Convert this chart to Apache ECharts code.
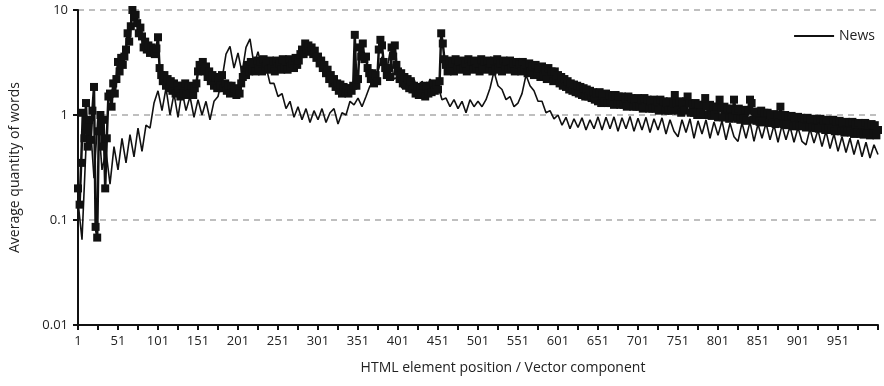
<!DOCTYPE html>
<html>
<head>
<meta charset="utf-8">
<script src="https://cdn.jsdelivr.net/npm/echarts@6/dist/echarts.min.js"></script>
<style>html,body{margin:0;padding:0;background:#fff}#c{width:884px;height:386px}</style>
</head>
<body>
<div id="c"></div>
<script>
// Category labels: HTML element positions 1..1001
var categories = [];
for (var n = 1; n <= 1001; n++) categories.push(String(n));
// square-marker series sampled every 2nd position, News line every 5th
var squareStep = 2;
var newsStep = 5;
var yTicks = [0.01, 0.1, 1, 10];

// thick series with square markers (positions 1, 3, 5, ...)
var squareSeries = [
0.2,0.14,0.35,1.05,0.6,1.3,0.5,0.9,0.58,1.1,
1.85,0.086,0.068,0.7,1.0,0.5,0.9,0.2,0.6,1.5,
1.6,1.2,2.0,1.6,2.2,3.2,2.6,3.5,3.0,3.6,
4.2,6.0,5.0,7.0,10,8.5,9.0,7.5,6.0,6.8,
5.6,4.4,5.0,4.2,4.6,3.9,4.4,4.1,3.8,4.3,
5.5,2.8,2.4,2.1,2.4,1.9,2.2,1.8,2.1,1.7,
2.0,1.6,1.9,1.7,1.5,1.9,1.6,2.0,1.55,1.85,
1.6,1.9,1.55,1.8,2.0,2.6,3.0,2.7,3.2,2.6,
2.9,2.3,2.6,2.1,2.4,1.9,2.3,1.8,2.2,1.9,
2.4,1.8,2.0,1.7,1.9,1.6,1.9,1.65,1.8,1.55,
1.75,1.6,2.0,2.3,2.7,2.4,3.0,2.6,3.2,2.7,
3.1,2.6,3.3,2.8,3.2,2.6,3.4,2.9,3.1,2.7,
3.3,2.8,3.2,2.6,3.3,2.9,3.1,2.7,3.4,2.8,
3.2,2.7,3.4,2.9,3.1,2.8,3.5,3.0,3.3,3.8,
4.2,3.8,4.8,4.2,4.6,4.0,4.4,3.8,4.1,3.5,
3.6,3.1,3.3,2.8,3.0,2.5,2.7,2.2,2.4,2.0,
2.2,1.85,2.0,1.7,1.95,1.6,1.85,1.65,1.8,1.6,
1.8,1.7,1.9,5.8,1.9,2.2,4.4,3.6,4.8,3.4,
3.6,2.8,2.5,2.2,2.5,2.0,2.4,2.1,4.2,5.2,
4.6,3.2,2.8,2.4,2.8,2.3,4.4,3.6,4.6,3.0,
2.6,2.2,2.5,2.0,2.3,1.9,2.2,1.8,2.1,1.75,
1.9,1.6,1.85,1.55,1.8,1.6,1.9,1.5,1.85,1.6,
1.9,1.65,2.0,1.7,1.95,1.75,2.1,6.0,4.8,3.4,
3.0,2.6,3.3,2.7,3.1,2.6,3.4,2.8,3.2,2.7,
3.3,2.8,3.1,2.6,3.4,2.9,3.2,2.7,3.3,2.8,
3.1,2.6,3.4,2.8,3.2,2.7,3.3,2.8,3.1,2.6,
3.3,2.7,3.4,2.8,3.1,2.6,3.3,2.9,3.2,2.7,
3.3,2.8,3.1,2.6,3.2,2.7,3.0,2.6,3.2,2.7,
3.0,2.5,3.1,2.6,2.9,2.4,3.0,2.5,2.8,2.3,
2.9,2.4,2.7,2.2,2.8,2.3,2.6,2.1,2.6,2.2,
2.4,2.0,2.3,1.9,2.2,1.85,2.1,1.75,2.0,1.7,
1.95,1.65,1.9,1.6,1.85,1.55,1.8,1.5,1.75,1.5,
1.7,1.45,1.65,1.4,1.6,1.35,1.65,1.3,1.55,1.35,
1.6,1.3,1.55,1.3,1.5,1.25,1.55,1.3,1.5,1.25,
1.5,1.25,1.45,1.2,1.5,1.25,1.45,1.2,1.4,1.2,
1.45,1.2,1.4,1.15,1.45,1.2,1.4,1.15,1.35,1.15,
1.4,1.15,1.35,1.1,1.4,1.15,1.35,1.1,1.3,1.1,
1.35,1.1,1.3,1.55,1.3,1.1,1.35,1.05,1.3,1.1,
1.35,1.5,1.3,1.05,1.25,1.05,1.3,1.0,1.25,1.05,
1.25,1.0,1.45,1.2,1.0,1.25,0.98,1.2,1.0,1.2,
0.95,1.4,1.15,0.95,1.2,0.95,1.15,0.92,1.15,0.95,
1.4,1.1,0.92,1.15,0.9,1.1,0.92,1.12,0.88,1.1,
1.4,1.3,0.9,1.08,0.88,1.05,0.86,1.1,0.85,1.05,
0.86,1.05,0.84,1.0,0.85,1.02,0.82,1.0,0.84,1.2,
0.98,0.82,1.0,0.8,0.96,0.82,0.98,0.78,0.95,0.8,
0.96,0.78,0.94,0.8,0.92,0.76,0.94,0.78,0.9,0.76,
0.92,0.75,0.9,0.74,0.92,0.76,0.88,0.72,0.9,0.74,
0.88,0.72,0.9,0.7,0.86,0.72,0.88,0.7,0.85,0.68,
0.86,0.7,0.84,0.68,0.86,0.66,0.82,0.68,0.84,0.66,
0.82,0.65,0.84,0.66,0.8,0.64,0.82,0.66,0.8,0.64,
0.72
];

// thin "News" line (positions 1, 6, 11, ...)
var newsSeries = [
0.15,0.065,0.5,0.9,0.25,1.0,0.3,0.45,0.22,0.5,
0.3,0.6,0.35,0.65,0.4,0.75,0.45,0.8,0.75,1.3,
1.7,1.1,1.8,1.0,1.6,0.95,1.7,1.1,1.5,0.95,
1.4,1.0,1.35,0.9,1.35,1.5,2.2,3.8,4.5,2.8,
3.9,2.5,4.4,5.3,3.0,4.0,2.8,2.9,2.0,2.0,
1.5,1.6,1.15,1.35,0.95,1.2,0.9,1.15,0.85,1.1,
0.9,1.15,0.85,1.05,1.15,0.82,1.05,1.0,1.35,1.25,
1.45,1.2,1.5,1.9,1.9,2.6,3.6,2.4,4.0,2.2,
2.3,1.8,2.3,1.7,2.2,1.65,2.1,1.7,2.2,1.8,
1.9,1.4,1.45,1.2,1.4,1.15,1.35,1.05,1.4,1.2,
1.35,1.2,1.4,1.8,2.6,1.9,1.75,1.4,1.5,1.2,
1.3,1.6,2.4,1.9,1.7,1.35,1.35,1.05,1.1,0.92,
1.0,0.8,0.95,0.74,0.92,0.76,0.94,0.72,0.9,0.74,
0.96,0.72,0.95,0.74,0.96,0.7,0.94,0.74,0.97,0.7,
0.93,0.72,0.95,0.68,0.92,0.72,0.94,0.66,0.9,0.7,
0.62,0.9,0.68,0.92,0.6,0.88,0.66,0.9,0.6,0.86,
0.64,0.88,0.58,0.84,0.62,0.56,0.84,0.6,0.86,0.56,
0.82,0.6,0.84,0.58,0.8,0.55,0.8,0.58,0.78,0.55,
0.76,0.56,0.52,0.74,0.54,0.72,0.5,0.7,0.48,0.66,
0.45,0.62,0.44,0.6,0.42,0.58,0.4,0.55,0.39,0.52,
0.42
];

function toPairs(arr, step) {
  return arr.map(function (v, k) { return [k * step, v]; });
}

var FONT = 'Open Sans';
var chart = echarts.init(document.getElementById('c'), null, { renderer: 'canvas' });
chart.setOption({
  animation: false,
  backgroundColor: '#fff',
  grid: { left: 76, right: 6, top: 10, bottom: 61, containLabel: false },
  legend: {
    data: ['News'],
    right: 4, top: 24,
    icon: 'rect', itemWidth: 40, itemHeight: 2, itemGap: 4,
    textStyle: { fontFamily: FONT, fontSize: 14, color: '#222' }
  },
  xAxis: {
    type: 'category',
    data: categories,
    boundaryGap: false,
    name: 'HTML element position / Vector component',
    nameLocation: 'middle',
    nameGap: 36,
    nameTextStyle: { fontFamily: FONT, fontSize: 14, color: '#222', padding: [0, 0, 0, 50] },
    axisLine: { lineStyle: { color: '#111', width: 2 } },
    axisTick: { show: true, interval: 24, length: 5, lineStyle: { color: '#111', width: 2 } },
    axisLabel: {
      interval: function (index) { return index % 50 === 0 && index < 1000; },
      fontFamily: FONT, fontSize: 13, color: '#222', margin: 10
    },
    splitLine: { show: false }
  },
  yAxis: {
    type: 'log',
    logBase: 10,
    min: yTicks[0],
    max: yTicks[yTicks.length - 1],
    name: 'Average quantity of words',
    nameLocation: 'middle',
    nameGap: 56,
    nameTextStyle: { fontFamily: FONT, fontSize: 14, color: '#222' },
    axisLine: { show: true, lineStyle: { color: '#111', width: 2 } },
    axisTick: { show: true, length: 5, lineStyle: { color: '#111', width: 2 } },
    axisLabel: {
      fontFamily: FONT, fontSize: 13, color: '#222', margin: 10,
      formatter: function (v) { return String(+v.toPrecision(2)); }
    },
    splitLine: { show: true, lineStyle: { color: '#aaa', width: 1.5, type: [6, 5] } }
  },
  series: [
    {
      name: 'News',
      type: 'line',
      data: toPairs(newsSeries, newsStep),
      showSymbol: false,
      symbol: 'none',
      lineStyle: { color: '#111', width: 1.6 },
      itemStyle: { color: '#111' },
      z: 2
    },
    {
      name: 'Squares',
      type: 'line',
      data: toPairs(squareSeries, squareStep),
      symbol: 'rect',
      symbolSize: 8,
      showAllSymbol: true,
      lineStyle: { color: '#111', width: 2.5 },
      itemStyle: { color: '#111' },
      z: 3
    }
  ]
});
</script>
</body>
</html>
